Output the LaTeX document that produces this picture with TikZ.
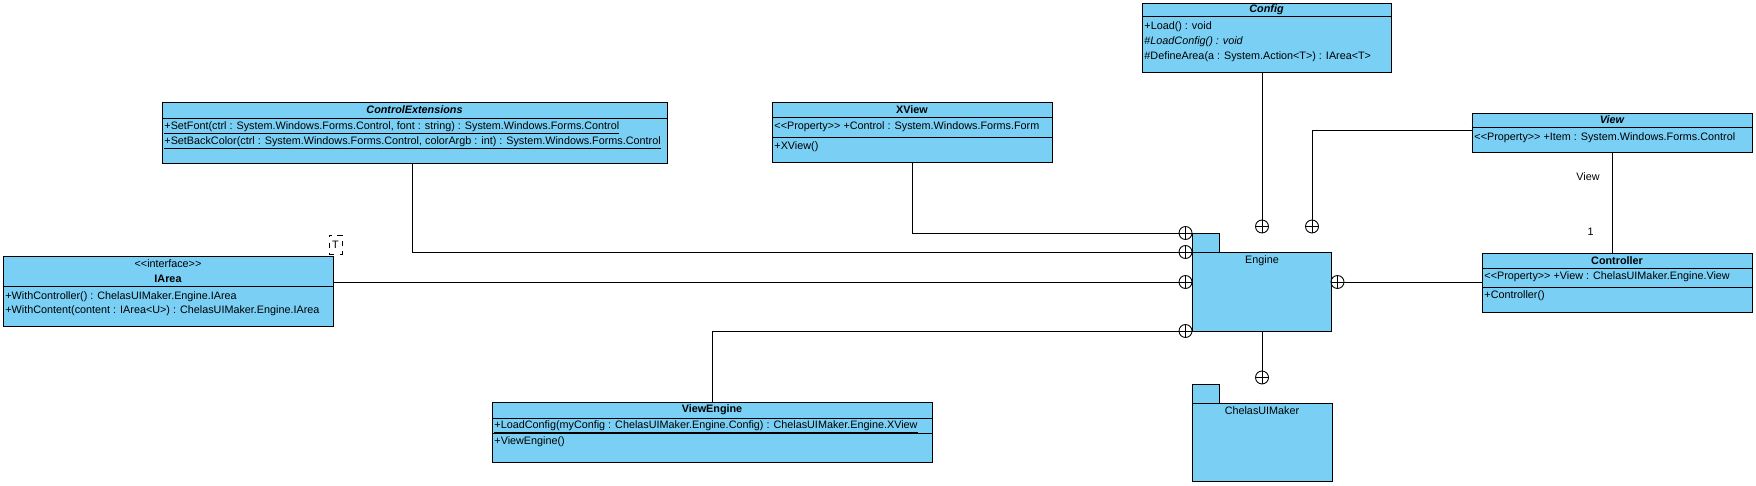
\documentclass[tikz,border=0pt]{standalone}
\usepackage{fontspec}
\setmainfont{Liberation Sans}
\usepackage{tikz}
\usetikzlibrary{fit,positioning}
\definecolor{clsblue}{RGB}{122,207,245}
\newcommand\umlfont{\fontsize{6.15}{7.4}\selectfont}
\newcommand\dlt{<\kern0pt<}
\newcommand\dgt{>\kern0pt>}

\begin{document}
\begin{tikzpicture}[%
    x=0.02cm, y=-0.02cm, line width=0.5pt,
    cls/.style    = {draw, rectangle, fill=clsblue, inner sep=0pt},
    pkg/.style    = {draw, rectangle, fill=clsblue, inner sep=0pt},
    ttl/.style    = {inner sep=0pt, font=\umlfont\bfseries},
    ttli/.style   = {inner sep=0pt, font=\umlfont\bfseries\itshape},
    row/.style    = {anchor=west, inner sep=0pt, font=\umlfont},
    lbl/.style    = {inner sep=0pt, font=\umlfont},
    tparam/.style = {draw, dashed, rectangle, fill=white, inner sep=0pt},
    cplus/.style  = {draw, circle, minimum size=0.26cm, inner sep=0pt,
                     path picture={\draw (path picture bounding box.north) -- (path picture bounding box.south)
                                         (path picture bounding box.west) -- (path picture bounding box.east);}}]

  \useasboundingbox (0,0) rectangle (1756,486);

  % classes
  \node[cls, fit={(162,102) (667,163)}] (ce) {};
  \draw (ce.west |- 0,118) -- (ce.east |- 0,118);
  \node[ttli] (cet) at (414.5,110) {ControlExtensions};
  \node[row] (ce1) at (164,128) {\underline{+SetFont(ctrl : System.Windows.Forms.Control, font : string) : System.Windows.Forms.Control}};
  \node[row] (ce2) at (164,143) {\underline{+SetBackColor(ctrl : System.Windows.Forms.Control, colorArgb : int) : System.Windows.Forms.Control}};

  \node[cls, fit={(772,102) (1052,162)}] (xv) {};
  \draw (xv.west |- 0,117) -- (xv.east |- 0,117);
  \draw (xv.west |- 0,137) -- (xv.east |- 0,137);
  \node[ttl] (xvt) at (912,109.5) {XView};
  \node[row] (xv1) at (774,127) {\dlt Property\dgt{} +Control : System.Windows.Forms.Form};
  \node[row] (xv2) at (774,147) {+XView()};

  \node[cls, fit={(1142,3) (1391,72)}] (cfg) {};
  \draw (cfg.west |- 0,16) -- (cfg.east |- 0,16);
  \node[ttli] (cfgt) at (1266.5,9.5) {Config};
  \node[row] (cfg1) at (1144,27) {+Load() : void};
  \node[row] (cfg2) at (1144,42) {\#\textit{LoadConfig() : void}};
  \node[row] (cfg3) at (1144,57) {\#DefineArea(a : System.Action<T>) : IArea<T>};

  \node[cls, fit={(1472,113) (1752,152)}] (vw) {};
  \draw (vw.west |- 0,127) -- (vw.east |- 0,127);
  \node[ttli] (vwt) at (1612,120) {View};
  \node[row] (vw1) at (1474,138) {\dlt Property\dgt{} +Item : System.Windows.Forms.Control};

  \node[cls, fit={(3,256) (333,326)}] (ia) {};
  \draw (ia.west |- 0,286) -- (ia.east |- 0,286);
  \node[lbl] (iast) at (168,264) {\dlt interface\dgt};
  \node[ttl] (iat) at (168,279) {IArea};
  \node[row] (ia1) at (5,297) {+WithController() : ChelasUIMaker.Engine.IArea};
  \node[row] (ia2) at (5,311) {+WithContent(content : IArea<U>) : ChelasUIMaker.Engine.IArea};
  \node[tparam, fit={(329,235) (342,254)}] (iatp) {};
  \node[lbl] (iatpl) at (iatp.center) {T};

  \node[cls, fit={(1482,253) (1752,312)}] (ctl) {};
  \draw (ctl.west |- 0,268) -- (ctl.east |- 0,268);
  \draw (ctl.west |- 0,287) -- (ctl.east |- 0,287);
  \node[ttl] (ctlt) at (1617,260.5) {Controller};
  \node[row] (ctl1) at (1484,277) {\dlt Property\dgt{} +View : ChelasUIMaker.Engine.View};
  \node[row] (ctl2) at (1484,296) {+Controller()};

  \node[cls, fit={(492,402) (932,462)}] (ve) {};
  \draw (ve.west |- 0,418) -- (ve.east |- 0,418);
  \draw (ve.west |- 0,433) -- (ve.east |- 0,433);
  \node[ttl] (vet) at (712,410) {ViewEngine};
  \node[row] (ve1) at (494,427) {\underline{+LoadConfig(myConfig : ChelasUIMaker.Engine.Config) : ChelasUIMaker.Engine.XView}};
  \node[row] (ve2) at (494,442) {+ViewEngine()};

  % packages
  \node[pkg, fit={(1192,233) (1219,252)}] (engtab) {};
  \node[pkg, fit={(1192,252) (1331,331)}] (eng) {};
  \node[lbl] (engl) at (1262,261) {Engine};
  \node[pkg, fit={(1192,384) (1219,403)}] (cuitab) {};
  \node[pkg, fit={(1192,403) (1332,481)}] (cui) {};
  \node[lbl] (cuil) at (1262,411) {ChelasUIMaker};

  % containment ends
  \node[cplus] (c1) at (1185.5,233) {};
  \node[cplus] (c2) at (1185.5,252) {};
  \node[cplus] (c3) at (1185.5,282) {};
  \node[cplus] (c4) at (1185.5,331) {};
  \node[cplus] (c5) at (1262,226.5) {};
  \node[cplus] (c6) at (1312,226.5) {};
  \node[cplus] (c7) at (1337.5,282) {};
  \node[cplus] (c8) at (1262,377.5) {};

  \draw (xv.south -| 912,0) |- (c1);
  \draw (ce.south -| 412,0) |- (c2);
  \draw (ia.east |- c3) -- (c3);
  \draw (ve.north -| 712,0) |- (c4);
  \draw (cfg.south -| c5) -- (c5);
  \draw (vw.west |- 0,130) -| (c6);
  \draw (ctl.west |- c7) -- (c7);
  \draw (eng.south -| c8) -- (c8);

  % association
  \draw (vw.south -| 1612,0) -- (ctl.north -| 1612,0);
  \node[lbl, anchor=east] (rview) at (1600,177) {View};
  \node[lbl, anchor=east] (mone) at (1594,232) {1};

\end{tikzpicture}
\end{document}
